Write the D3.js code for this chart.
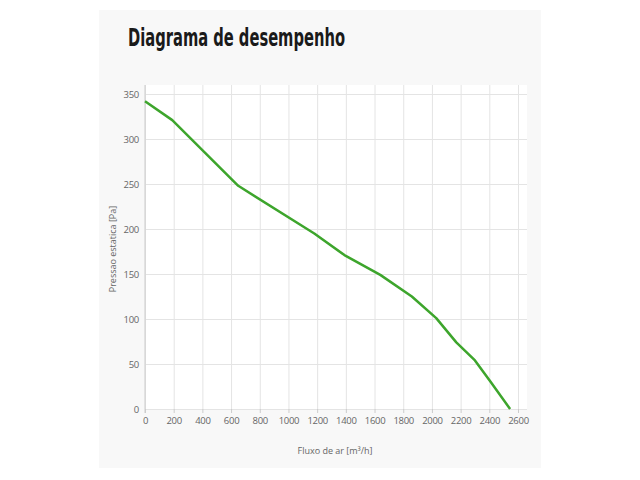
<!DOCTYPE html>
<html>
<head>
<meta charset="utf-8">
<script src="https://cdn.jsdelivr.net/npm/d3@7.9.0/dist/d3.min.js"></script>
<style>
  body { margin: 0; background: #fff; }
  svg { display: block; }
  .tick text { font-family: "Open Sans", sans-serif; font-size: 9.5px; fill: #666; letter-spacing: -0.3px; }
</style>
</head>
<body>
<div id="chart"></div>
<script>
const flow = [0, 190, 650, 1180, 1390, 1640, 1860, 2030, 2170, 2300, 2410, 2545];
const pressure = [342, 321, 248, 195, 171, 149, 125, 101, 74, 54, 30, 0];
const xTicks = [0, 200, 400, 600, 800, 1000, 1200, 1400, 1600, 1800, 2000, 2200, 2400, 2600];
const yTicks = [0, 50, 100, 150, 200, 250, 300, 350];

const width = 640;
const height = 480;

const svg = d3.select("#chart")
  .append("svg")
  .attr("width", width)
  .attr("height", height);

// panel background
svg.append("rect")
  .attr("x", 99).attr("y", 10)
  .attr("width", 442).attr("height", 458)
  .attr("fill", "#f8f8f8");

svg.append("text")
  .attr("x", 128).attr("y", 46)
  .attr("font-family", "'DejaVu Sans Condensed', 'DejaVu Sans', sans-serif")
  .attr("font-weight", "bold")
  .attr("font-size", 24)
  .attr("textLength", 217)
  .attr("lengthAdjust", "spacingAndGlyphs")
  .attr("fill", "#1a1a1a")
  .text("Diagrama de desempenho");

const xScale = d3.scaleLinear().domain([0, 2600]).range([145, 518]);
const yScale = d3.scaleLinear().domain([0, 350]).range([409, 94]);

// plot area
svg.append("rect")
  .attr("x", xScale(0))
  .attr("y", yScale(360))
  .attr("width", xScale(2663) - xScale(0))
  .attr("height", yScale(0) - yScale(360))
  .attr("fill", "#fff");

svg.append("g")
  .attr("class", "grid")
  .attr("transform", `translate(${xScale(0)},0)`)
  .call(d3.axisLeft(yScale).tickValues(yTicks).tickFormat("")
    .tickSize(-(xScale(2663) - xScale(0))))
  .call(g => g.select(".domain").remove())
  .call(g => g.selectAll("line").attr("stroke", "#e4e4e4"));

svg.append("g")
  .attr("class", "grid")
  .attr("transform", `translate(0,${yScale(0)})`)
  .call(d3.axisBottom(xScale).tickValues(xTicks).tickFormat("")
    .tickSize(-(yScale(0) - yScale(360))))
  .call(g => g.select(".domain").remove())
  .call(g => g.selectAll("line").attr("stroke", "#e4e4e4"));

svg.append("g")
  .attr("transform", `translate(0,${yScale(0)})`)
  .call(d3.axisBottom(xScale).tickValues(xTicks).tickFormat(d3.format("d"))
    .tickSize(4).tickPadding(4))
  .call(g => g.select(".domain").remove())
  .call(g => g.selectAll("line").attr("stroke", "#ccc"));

svg.append("g")
  .attr("transform", `translate(${xScale(0)},0)`)
  .call(d3.axisLeft(yScale).tickValues(yTicks).tickFormat(d3.format("d"))
    .tickSize(0).tickPadding(6))
  .call(g => g.select(".domain").attr("stroke", "#ccc")
    .attr("d", `M0,${yScale(360)}V${yScale(0) + 4}`));

const line = d3.line()
  .x((d, i) => xScale(flow[i]))
  .y(d => yScale(d));

svg.append("path")
  .datum(pressure)
  .attr("d", line)
  .attr("fill", "none")
  .attr("stroke", "#3da52c")
  .attr("stroke-width", 2.5)
  .attr("stroke-linejoin", "round");

svg.append("text")
  .attr("transform", `translate(116,${(yScale(0) + yScale(360)) / 2 + 2}) rotate(-90)`)
  .attr("text-anchor", "middle")
  .attr("font-family", "'Open Sans', sans-serif")
  .attr("font-size", 9)
  .attr("fill", "#666")
  .text("Pressao estatica [Pa]");

svg.append("text")
  .attr("x", 335).attr("y", 454)
  .attr("text-anchor", "middle")
  .attr("font-family", "'Open Sans', sans-serif")
  .attr("font-size", 9)
  .attr("fill", "#666")
  .text("Fluxo de ar [m³/h]");
</script>
</body>
</html>
